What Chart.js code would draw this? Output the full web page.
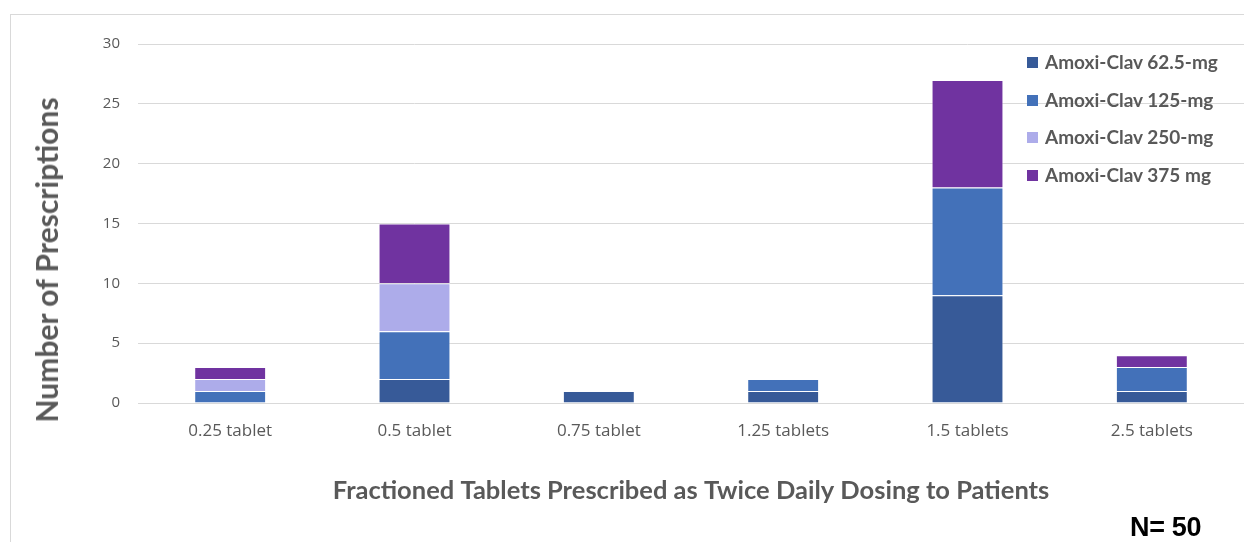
<!DOCTYPE html>
<html>
<head>
<meta charset="utf-8">
<script src="https://cdn.jsdelivr.net/npm/chart.js@4.4.1/dist/chart.umd.min.js"></script>
<style>
  html,body{margin:0;padding:0;background:#fff;}
  #wrap{position:relative;width:1244px;height:542px;overflow:hidden;font-family:Lato,"Open Sans",sans-serif;}
  #frame{position:absolute;left:10px;top:14px;width:1300px;height:600px;border:1px solid #d9d9d9;box-sizing:border-box;}
  #chart{position:absolute;left:0;top:0;}
  #ytitle{position:absolute;left:46px;top:260px;transform:translate(-50%,-50%) rotate(-90deg);white-space:nowrap;
    font-weight:bold;font-size:30px;color:#595959;}
  #legend{position:absolute;left:1027px;top:50px;font-weight:bold;font-size:19px;color:#595959;}
  #legend div{height:37.5px;display:flex;align-items:flex-start;white-space:nowrap;}
  #legend span.box{display:inline-block;width:11px;height:11px;margin:7px 7px 0 0;}
  #n{position:absolute;left:1130px;top:512px;font-family:"Liberation Sans",sans-serif;font-weight:bold;font-size:27px;color:#000;letter-spacing:-0.3px;}
</style>
</head>
<body>
<div id="wrap">
  <div id="frame"></div>
  <canvas id="chart" width="1244" height="542"></canvas>
  <div id="ytitle">Number of Prescriptions</div>
  <div id="legend"></div>
  <div id="n">N= 50</div>
</div>
<script>
const categories = ["0.25 tablet","0.5 tablet","0.75 tablet","1.25 tablets","1.5 tablets","2.5 tablets"];
const seriesNames = ["Amoxi-Clav 62.5-mg","Amoxi-Clav 125-mg","Amoxi-Clav 250-mg","Amoxi-Clav 375 mg"];
const clav62 = [0, 2, 1, 1, 9, 1];
const clav125 = [1, 4, 0, 1, 9, 2];
const clav250 = [1, 4, 0, 0, 0, 0];
const clav375 = [1, 5, 0, 0, 9, 1];
const yTicks = [0, 5, 10, 15, 20, 25, 30];
const colors = ["#375a98","#4371b9","#adacea","#7033a0"];

const seriesData = [clav62, clav125, clav250, clav375];
const datasets = seriesNames.map((name,i)=>({
  label:name,
  data:seriesData[i],
  backgroundColor:colors[i],
  borderColor:"rgba(255,255,255,0.45)",
  borderWidth:1,
  barPercentage:0.39,
  categoryPercentage:1
}));

const legend = document.getElementById("legend");
seriesNames.forEach((name,i)=>{
  const row = document.createElement("div");
  row.innerHTML = '<span class="box" style="background:'+colors[i]+'"></span>'+name;
  legend.appendChild(row);
});

new Chart(document.getElementById("chart"),{
  type:"bar",
  data:{labels:categories,datasets:datasets},
  options:{
    responsive:false,
    animation:false,
    layout:{padding:{left:101,right:0,top:44,bottom:32}},
    plugins:{legend:{display:false},tooltip:{enabled:false}},
    scales:{
      x:{
        stacked:true,
        grid:{display:false},
        border:{color:"#d9d9d9"},
        ticks:{color:"#595959",font:{family:"Open Sans",size:17},padding:10},
        title:{display:true,text:"Fractioned Tablets Prescribed as Twice Daily Dosing to Patients",
          color:"#595959",font:{family:"Lato",size:25.5,weight:"bold"},padding:{top:24}}
      },
      y:{
        stacked:true,
        min:0,max:30,
        afterBuildTicks:axis=>{axis.ticks=yTicks.map(v=>({value:v}));},
        afterFit:axis=>{axis.width=37;},
        grid:{color:"#d9d9d9",drawTicks:false},
        border:{display:false},
        ticks:{color:"#595959",font:{family:"Open Sans",size:15},padding:18},
        title:{display:false}
      }
    }
  }
});
</script>
</body>
</html>
